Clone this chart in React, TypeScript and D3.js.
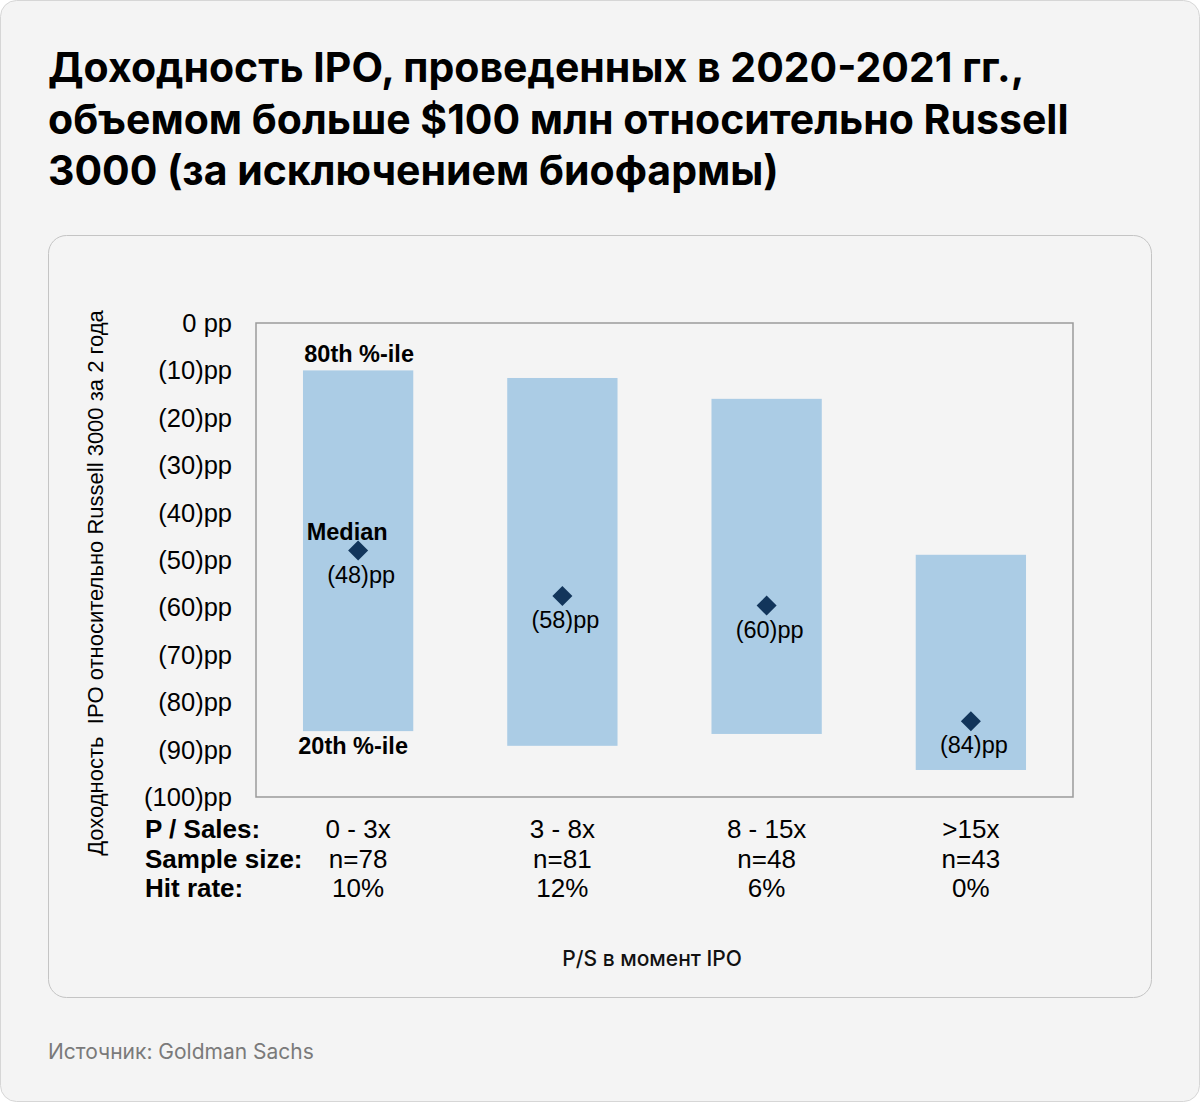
import React from "react";
import * as d3 from "d3";

const categories = ["0 - 3x", "3 - 8x", "8 - 15x", ">15x"];
const p80 = [-10, -11.6, -16, -48.9];
const p20 = [-86.1, -89.2, -86.7, -94.3];
const medians = [-48, -57.6, -59.6, -84];
const sampleSizes = [78, 81, 48, 43];
const hitRates = [10, 12, 6, 0];
const yTicks = [0, -10, -20, -30, -40, -50, -60, -70, -80, -90, -100];
const rowLabels = ["P / Sales:", "Sample size:", "Hit rate:"];
const titleLines = [
  "Доходность IPO, проведенных в 2020-2021 гг.,",
  "объемом больше $100 млн относительно Russell",
  "3000 (за исключением биофармы)",
];

const W = 1200;
const H = 1102;
const chartFont = "'Liberation Sans', Arial, sans-serif";
const titleFont = "Inter, 'Noto Sans', sans-serif";

export default function App() {
  const plot = { left: 256, right: 1073, top: 323, bottom: 797 };
  const y = d3.scaleLinear().domain([0, -100]).range([plot.top, plot.bottom]);
  const x = d3.scaleBand<string>().domain(categories).range([plot.left, plot.right]).padding(0);
  const barW = x.step() * 0.54;
  const cx = (c: string) => (x(c) as number) + x.bandwidth() / 2;
  const diamond = d3.symbol().type(d3.symbolSquare).size(200)();
  const fmt = (v: number) => (v === 0 ? "0 pp" : `(${Math.round(Math.abs(v))})pp`);

  return (
    <div style={{ position: "absolute", left: 0, top: 0 }}>
      <svg width={W} height={H} style={{ display: "block" }}>
        <rect x={0.5} y={0.5} width={W - 1} height={H - 1} rx={16} fill="#f4f4f4" stroke="#d6d6d6" />
        {titleLines.map((t, i) => (
          <text key={i} x={48} y={82 + i * 51.5} fontFamily={titleFont} fontWeight={700} fontSize={41} fill="#000">
            {t}
          </text>
        ))}
        <rect x={48.5} y={235.5} width={1103} height={762} rx={18} fill="#f4f4f4" stroke="#c4c4c4" />

        {/* y-axis title */}
        <text
          transform={`translate(103,583) rotate(-90)`}
          textAnchor="middle"
          fontFamily={chartFont}
          fontSize={22}
          fill="#000"
          style={{ whiteSpace: "pre" }}
        >
          {"Доходность  IPO относительно Russell 3000 за 2 года"}
        </text>

        {/* ticks */}
        {yTicks.map((t) => (
          <text key={t} x={232} y={y(t)} textAnchor="end" dominantBaseline="central" fontFamily={chartFont} fontSize={25.5} fill="#000">
            {fmt(t)}
          </text>
        ))}

        {/* bars */}
        {categories.map((c, i) => (
          <rect key={c} x={cx(c) - barW / 2} y={y(p80[i])} width={barW} height={y(p20[i]) - y(p80[i])} fill="#abcce5" />
        ))}

        {/* frame */}
        <rect x={plot.left} y={plot.top} width={plot.right - plot.left} height={plot.bottom - plot.top} fill="none" stroke="#9a9a9a" strokeWidth={1.5} />

        {/* medians */}
        {categories.map((c, i) => (
          <g key={c}>
            <path d={diamond as string} transform={`translate(${cx(c)},${y(medians[i])}) rotate(45)`} fill="#12355b" />
            <text x={cx(c) + 3} y={y(medians[i]) + 24} textAnchor="middle" dominantBaseline="central" fontFamily={chartFont} fontSize={23.5} fill="#000">
              {fmt(medians[i])}
            </text>
          </g>
        ))}

        {/* annotations */}
        <text x={cx(categories[0]) + 1} y={y(p80[0]) - 16} textAnchor="middle" dominantBaseline="central" fontFamily={chartFont} fontWeight={700} fontSize={23.5}>
          80th %-ile
        </text>
        <text x={cx(categories[0]) - 11} y={y(medians[0]) - 19} textAnchor="middle" dominantBaseline="central" fontFamily={chartFont} fontWeight={700} fontSize={23.5}>
          Median
        </text>
        <text x={cx(categories[0]) - 5} y={y(p20[0]) + 15} textAnchor="middle" dominantBaseline="central" fontFamily={chartFont} fontWeight={700} fontSize={23.5}>
          20th %-ile
        </text>

        {/* table */}
        {rowLabels.map((l, i) => (
          <text key={l} x={145} y={829 + i * 29.5} dominantBaseline="central" fontFamily={chartFont} fontWeight={700} fontSize={26}>
            {l}
          </text>
        ))}
        {categories.map((c, i) => (
          <g key={c} fontFamily={chartFont} fontSize={26} textAnchor="middle">
            <text x={cx(c)} y={829} dominantBaseline="central">{c}</text>
            <text x={cx(c)} y={858.5} dominantBaseline="central">{`n=${sampleSizes[i]}`}</text>
            <text x={cx(c)} y={888} dominantBaseline="central">{`${hitRates[i]}%`}</text>
          </g>
        ))}

        <text x={652} y={958} textAnchor="middle" dominantBaseline="central" fontFamily={titleFont} fontWeight={500} fontSize={21} fill="#111">
          P/S в момент IPO
        </text>

        <text x={48} y={1051} dominantBaseline="central" fontFamily={titleFont} fontSize={21} fill="#7a7a7a">
          Источник: Goldman Sachs
        </text>
      </svg>
    </div>
  );
}
